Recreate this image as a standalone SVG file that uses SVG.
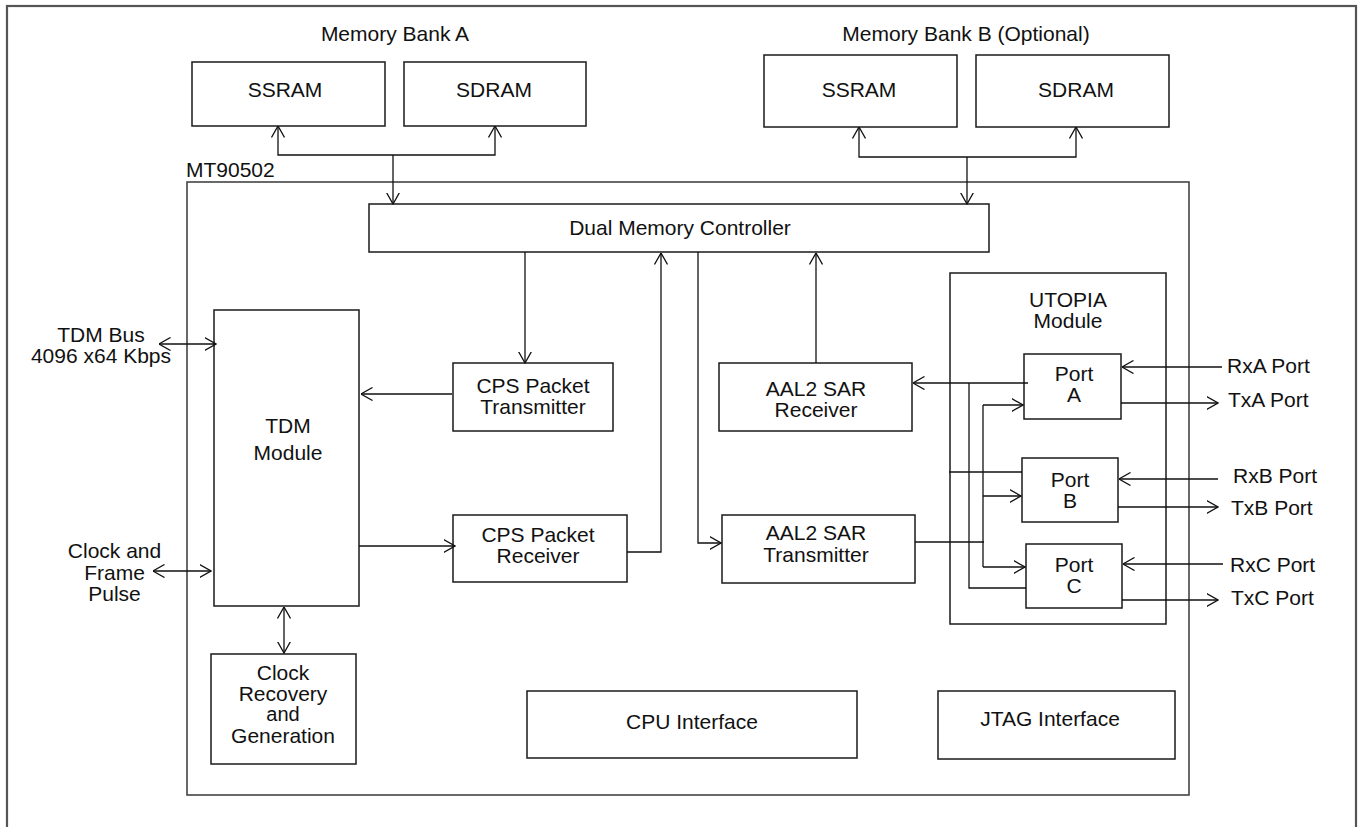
<svg xmlns="http://www.w3.org/2000/svg" width="1360" height="827" viewBox="0 0 1360 827">
<style>
  .box { fill: #fff; stroke: #1a1a1a; stroke-width: 1.5; }
  .frame { fill: none; stroke: #444; stroke-width: 1.6; }
  .outer { fill: none; stroke: #555; stroke-width: 2.2; }
  .c { fill: none; stroke: #111; stroke-width: 1.3; }
  text { font-family: "Liberation Sans", Arial, Helvetica, sans-serif; font-size: 21px; fill: #111; }
  .m { text-anchor: middle; }
  .t { font-size: 20px; }
</style>
<defs>
  <marker id="arr" viewBox="0 0 12 14" refX="11.5" refY="7" markerWidth="12" markerHeight="14" markerUnits="userSpaceOnUse" orient="auto-start-reverse">
    <path d="M0,0.5 L11.5,7 L0,13.5" fill="none" stroke="#111" stroke-width="1.3"/>
  </marker>
</defs>
<rect width="1360" height="827" fill="#fff"/>
<rect class="outer" x="7" y="6" width="1349" height="830"/>

<g id="chip">
  <rect class="frame" x="187" y="182" width="1002" height="613"/>
  <text x="186" y="177">MT90502</text>
</g>

<g id="bankA-label"><text class="m" x="395" y="41">Memory Bank A</text></g>
<g id="bankB-label"><text class="m" x="966" y="41">Memory Bank B (Optional)</text></g>

<g id="ssramA"><rect class="box" x="192" y="62" width="193" height="64"/><text class="m" x="285" y="97">SSRAM</text></g>
<g id="sdramA"><rect class="box" x="404" y="62" width="182" height="64"/><text class="m" x="494" y="97">SDRAM</text></g>
<g id="ssramB"><rect class="box" x="764" y="55" width="193" height="72"/><text class="m" x="859" y="97">SSRAM</text></g>
<g id="sdramB"><rect class="box" x="976" y="55" width="193" height="72"/><text class="m" x="1076" y="97">SDRAM</text></g>

<g id="dmc"><rect class="box" x="369" y="204" width="620" height="48"/><text class="m" x="680" y="235">Dual Memory Controller</text></g>

<g id="tdm"><rect class="box" x="214" y="310" width="145" height="296"/>
  <text class="m" x="288" y="433">TDM</text><text class="m" x="288" y="460">Module</text></g>

<g id="tdmbus-label"><text class="m" x="101" y="342">TDM Bus</text><text class="m" x="101" y="363">4096 x64 Kbps</text></g>
<g id="clockframe-label"><text class="m" x="114.5" y="558">Clock and</text><text class="m" x="114.5" y="579.5">Frame</text><text class="m" x="114.5" y="600.5">Pulse</text></g>

<g id="cpstx"><rect class="box" x="453" y="363" width="160" height="68"/>
  <text class="m" x="533" y="393">CPS Packet</text><text class="m" x="533" y="414">Transmitter</text></g>
<g id="cpsrx"><rect class="box" x="453" y="515" width="174" height="67"/>
  <text class="m" x="538" y="542">CPS Packet</text><text class="m" x="538" y="563">Receiver</text></g>

<g id="aal2rx"><rect class="box" x="719" y="363" width="193" height="68"/>
  <text class="m" x="816" y="396">AAL2 SAR</text><text class="m" x="816" y="417">Receiver</text></g>
<g id="aal2tx"><rect class="box" x="722" y="515" width="193" height="68"/>
  <text class="m" x="816" y="539.5">AAL2 SAR</text><text class="m" x="816" y="561.5">Transmitter</text></g>

<g id="utopia"><rect class="box" x="950" y="273" width="216" height="351"/>
  <text class="m" x="1068" y="306.7">UTOPIA</text><text class="m" x="1068" y="328.3">Module</text></g>

<g id="portA"><rect class="box" x="1024" y="354" width="97" height="65"/>
  <text class="m" x="1074" y="381">Port</text><text class="m" x="1074" y="402">A</text></g>
<g id="portB"><rect class="box" x="1022" y="458" width="96" height="64"/>
  <text class="m" x="1070" y="486.5">Port</text><text class="m" x="1070" y="507.5">B</text></g>
<g id="portC"><rect class="box" x="1026" y="544" width="96" height="64"/>
  <text class="m" x="1074" y="571.7">Port</text><text class="m" x="1074" y="593.3">C</text></g>

<g id="port-labels">
  <text x="1227" y="373.3">RxA Port</text>
  <text x="1228" y="406.7">TxA Port</text>
  <text x="1233" y="482.7">RxB Port</text>
  <text x="1231" y="515">TxB Port</text>
  <text x="1230" y="571.7">RxC Port</text>
  <text x="1231" y="605">TxC Port</text>
</g>

<g id="clockrec"><rect class="box" x="211" y="654" width="145" height="110"/>
  <text class="m" x="283" y="680">Clock</text><text class="m" x="283" y="700.5">Recovery</text><text class="m t" x="283" y="720.5">and</text><text class="m" x="283" y="743.3">Generation</text></g>

<g id="cpu"><rect class="box" x="527" y="691" width="330" height="67"/><text class="m" x="692" y="729">CPU Interface</text></g>
<g id="jtag"><rect class="box" x="938" y="691" width="237" height="68"/><text class="m" x="1050" y="725.7">JTAG Interface</text></g>

<g id="connectors">
  <path class="c" d="M278,126 V155 H495 V126" marker-start="url(#arr)" marker-end="url(#arr)"/>
  <path class="c" d="M393,155 V204" marker-end="url(#arr)"/>
  <path class="c" d="M859,127 V157 H1076 V127" marker-start="url(#arr)" marker-end="url(#arr)"/>
  <path class="c" d="M967,157 V204" marker-end="url(#arr)"/>
  <path class="c" d="M159,344 H216" marker-start="url(#arr)" marker-end="url(#arr)"/>
  <path class="c" d="M153,571 H211" marker-start="url(#arr)" marker-end="url(#arr)"/>
  <path class="c" d="M525,252 V363" marker-end="url(#arr)"/>
  <path class="c" d="M452,394 H361" marker-end="url(#arr)"/>
  <path class="c" d="M359,546 H455" marker-end="url(#arr)"/>
  <path class="c" d="M627,552 H661 V253" marker-end="url(#arr)"/>
  <path class="c" d="M698,252 V543 H721" marker-end="url(#arr)"/>
  <path class="c" d="M816,363 V253" marker-end="url(#arr)"/>
  <path class="c" d="M1028,383 H913" marker-end="url(#arr)"/>
  <path class="c" d="M969,383 V588 H1026"/>
  <path class="c" d="M949,472 H1022"/>
  <path class="c" d="M915,542 H984"/>
  <path class="c" d="M983,405 V567"/>
  <path class="c" d="M983,405 H1023" marker-end="url(#arr)"/>
  <path class="c" d="M983,496 H1021" marker-end="url(#arr)"/>
  <path class="c" d="M983,567 H1025" marker-end="url(#arr)"/>
  <path class="c" d="M1222,367 H1122" marker-end="url(#arr)"/>
  <path class="c" d="M1121,403 H1218" marker-end="url(#arr)"/>
  <path class="c" d="M1218,479 H1119" marker-end="url(#arr)"/>
  <path class="c" d="M1118,507 H1218" marker-end="url(#arr)"/>
  <path class="c" d="M1223,564 H1123" marker-end="url(#arr)"/>
  <path class="c" d="M1122,600 H1218" marker-end="url(#arr)"/>
  <path class="c" d="M284,607 V653" marker-start="url(#arr)" marker-end="url(#arr)"/>
</g>
</svg>
